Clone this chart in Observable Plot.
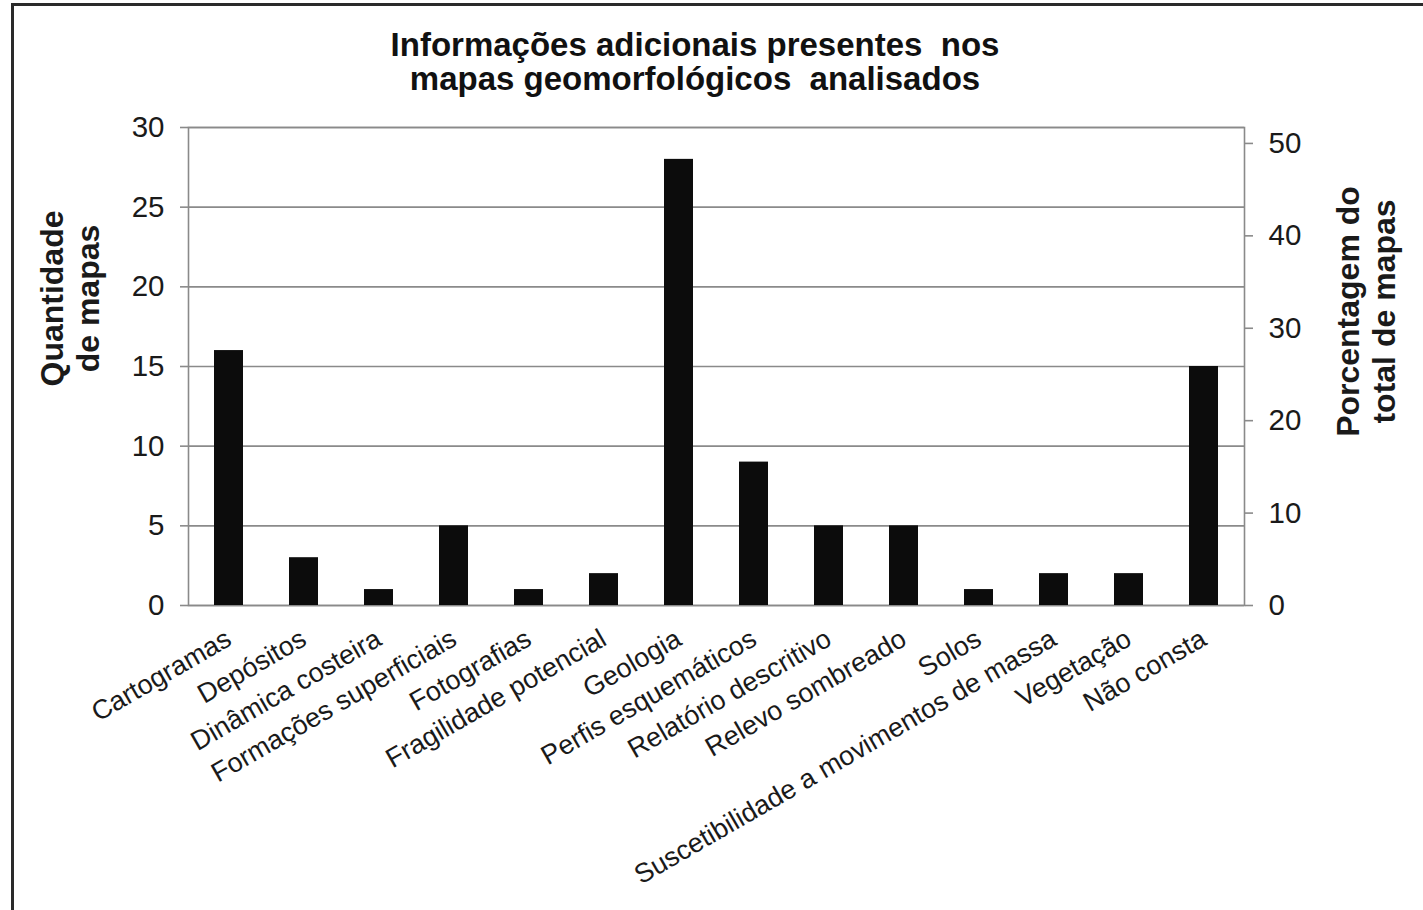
<!DOCTYPE html>
<html>
<head>
<meta charset="utf-8">
<script src="https://cdn.jsdelivr.net/npm/d3@7"></script>
<script src="https://cdn.jsdelivr.net/npm/@observablehq/plot@0.6"></script>
<style>
  html, body { margin: 0; padding: 0; background: #fff; overflow: hidden; }
  body { width: 1423px; height: 910px; position: relative; font-family: "Liberation Sans", Arial, sans-serif; }
  /* Moldura do gráfico: só as bordas superior e esquerda ficam dentro da área visível */
  #moldura {
    position: absolute; left: 11px; top: 3px; width: 1500px; height: 1200px;
    border-left: 3px solid #2a2a2a; border-top: 3px solid #2a2a2a;
    box-sizing: border-box; z-index: 2; pointer-events: none;
  }
  #grafico { position: absolute; left: 0; top: 0; width: 1423px; z-index: 1; }
  #titulo {
    height: 100px; box-sizing: border-box; padding-top: 28px; width: 1390px;
    text-align: center; font-weight: bold; font-size: 33px; line-height: 34px; color: #111;
    white-space: pre;
  }
  svg { display: block; }
</style>
</head>
<body>
<div id="moldura"></div>
<div id="grafico">
  <div id="titulo">Informações adicionais presentes  nos
mapas geomorfológicos  analisados</div>
</div>
<script>
// Itens de informação adicional e quantidade de mapas em que cada um aparece
const categorias = [
  "Cartogramas", "Depósitos", "Dinâmica costeira", "Formações superficiais",
  "Fotografias", "Fragilidade potencial", "Geologia", "Perfis esquemáticos",
  "Relatório descritivo", "Relevo sombreado", "Solos",
  "Suscetibilidade a movimentos de massa", "Vegetação", "Não consta"
];
const quantidades = [16, 3, 1, 5, 1, 2, 28, 9, 5, 5, 1, 2, 2, 15];

// Número total de mapas analisados (base do eixo percentual)
const totalMapas = 58;

// Marcas dos eixos
const ticksQuantidade = [0, 5, 10, 15, 20, 25, 30];
const ticksPercentual = [0, 10, 20, 30, 40, 50];

const dados = categorias.map((c, i) => ({categoria: c, quantidade: quantidades[i]}));

const cinza = "#8a8a8a";
const texto = "#1a1a1a";

const grafico = Plot.plot({
  width: 1423,
  height: 810,
  marginTop: 27,
  marginBottom: 305,
  marginLeft: 188,
  marginRight: 179,
  style: {fontFamily: "'Liberation Sans', Arial, sans-serif", color: texto, background: "transparent"},
  x: {domain: categorias, paddingInner: 0.615, paddingOuter: 0.31, label: null},
  y: {domain: [0, 30], label: null},
  marks: [
    Plot.gridY(ticksQuantidade, {stroke: cinza, strokeOpacity: 1, strokeWidth: 1.6}),
    Plot.frame({stroke: cinza, strokeWidth: 1.6}),
    Plot.barY(dados, {x: "categoria", y: "quantidade", fill: "#0c0c0c"}),
    Plot.axisY(ticksQuantidade, {
      anchor: "left", tickSize: 8, tickPadding: 16, stroke: cinza, strokeWidth: 1.6,
      fontSize: 29.5, fill: texto, label: null
    }),
    // Eixo percentual: posições na escala de quantidade, rótulos em % do total
    Plot.axisY(ticksPercentual.map(p => p * totalMapas / 100), {
      anchor: "right", tickSize: 8, tickPadding: 16, stroke: cinza, strokeWidth: 1.6,
      fontSize: 29.5, fill: texto, label: null,
      tickFormat: d => String(Math.round(d * 100 / totalMapas))
    }),
    Plot.axisX({
      anchor: "bottom", tickSize: 0, tickPadding: 31, tickRotate: -30,
      fontSize: 27, fill: texto, label: null
    }),
    Plot.text(["Quantidade\nde mapas"], {
      frameAnchor: "left", dx: -119, dy: -68, rotate: -90,
      fontSize: 32, fontWeight: "bold", lineHeight: 1.12, lineAnchor: "middle",
      textAnchor: "middle", fill: texto
    }),
    Plot.text(["Porcentagem do\ntotal de mapas"], {
      frameAnchor: "right", dx: 121, dy: -55, rotate: -90,
      fontSize: 32, fontWeight: "bold", lineHeight: 1.12, lineAnchor: "middle",
      textAnchor: "middle", fill: texto
    })
  ]
});

document.getElementById("grafico").appendChild(grafico);
</script>
</body>
</html>
